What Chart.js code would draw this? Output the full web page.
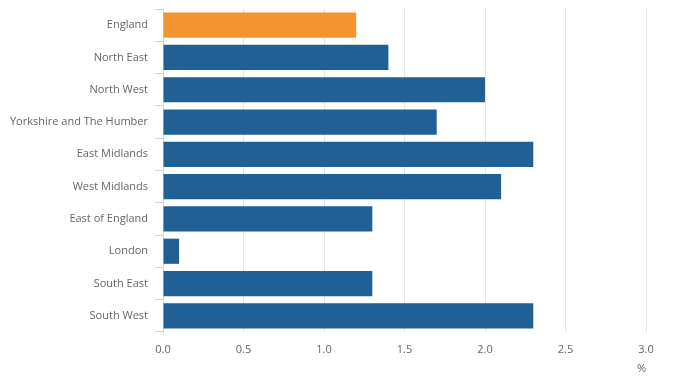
<!DOCTYPE html>
<html>
<head>
<meta charset="utf-8">
<script src="https://cdn.jsdelivr.net/npm/chart.js@4"></script>
<style>
    html, body { margin: 0; padding: 0; background: #fff; }
    #wrap { width: 685px; height: 385px; }
</style>
</head>
<body>
<div id="wrap"><canvas id="regionChart"></canvas></div>
<script>
const regions = ['England', 'North East', 'North West', 'Yorkshire and The Humber', 'East Midlands',
    'West Midlands', 'East of England', 'London', 'South East', 'South West'];
const values = [1.2, 1.4, 2.0, 1.7, 2.3, 2.1, 1.3, 0.1, 1.3, 2.3];
const xTicks = [0, 0.5, 1.0, 1.5, 2.0, 2.5, 3.0];

const textColor = '#666666';
const font = { family: '"Open Sans", sans-serif', size: 11 };

const ctx = document.getElementById('regionChart').getContext('2d');

new Chart(ctx, {
    type: 'bar',
    data: {
        labels: regions,
        datasets: [{
            data: values,
            backgroundColor: regions.map(r => r === 'England' ? '#f39431' : '#206095'), // England highlighted
            barPercentage: 0.78,
            categoryPercentage: 1
        }]
    },
    options: {
        indexAxis: 'y',
        responsive: true,
        maintainAspectRatio: false,
        animation: false,
        layout: { padding: { top: 9, right: 39, bottom: 0, left: 0 } },
        plugins: {
            legend: { display: false },
            tooltip: { enabled: false }
        },
        scales: {
            x: {
                min: 0,
                max: 3,
                afterBuildTicks: axis => { axis.ticks = xTicks.map(v => ({ value: v })); },
                afterFit: axis => { axis.height = 53; axis.paddingLeft = 0; axis.paddingRight = 0; },
                ticks: {
                    color: textColor,
                    font: font,
                    padding: 11,
                    callback: v => v.toFixed(1)
                },
                grid: { color: '#e6e6e6', drawTicks: false },
                border: { display: false },
                title: {
                    display: true,
                    text: '%',
                    align: 'end',
                    color: textColor,
                    font: font,
                    padding: { top: 4, bottom: 10 }
                }
            },
            y: {
                afterFit: axis => { axis.width = 163; axis.paddingTop = 0; axis.paddingBottom = 0; },
                ticks: { color: textColor, font: font, padding: 7 },
                grid: {
                    drawOnChartArea: false,
                    color: '#ccd6eb',
                    tickLength: 8
                },
                border: { color: '#ccd6eb' }
            }
        }
    }
});
</script>
</body>
</html>
